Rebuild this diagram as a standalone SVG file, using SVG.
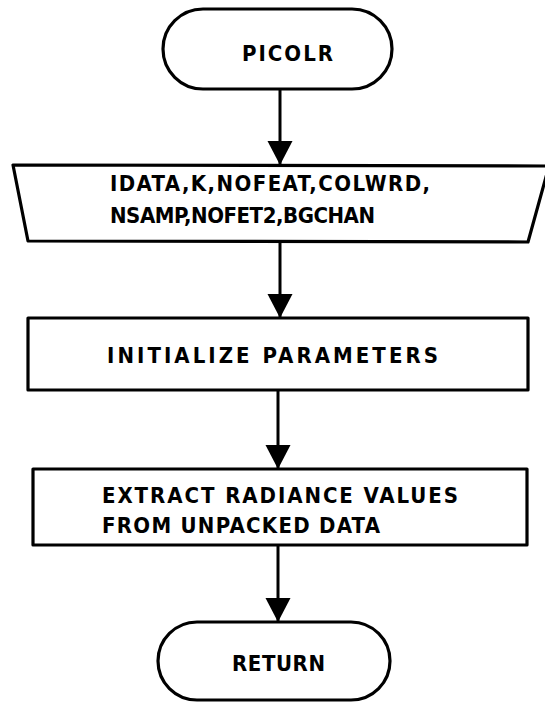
<svg xmlns="http://www.w3.org/2000/svg" width="545" height="705" viewBox="0 0 545 705">
<style>
.shape{fill:#fff;stroke:#000;stroke-width:3.2;stroke-linejoin:round}
.conn{stroke:#000;stroke-width:3;fill:none}
.t{font-family:"DejaVu Sans Condensed","DejaVu Sans",sans-serif;font-stretch:condensed;font-weight:bold;font-size:22px;fill:#000}
</style>
<defs>
<marker id="ah" markerUnits="userSpaceOnUse" markerWidth="26" markerHeight="26" refX="24" refY="12.5" orient="auto">
<path d="M0,0 L24,12.5 L0,25 Z" fill="#000"/>
</marker>
</defs>
<rect width="545" height="705" fill="#fff"/>
<g id="connectors">
<line class="conn" x1="280" y1="89" x2="280" y2="165" marker-end="url(#ah)"/>
<line class="conn" x1="280" y1="242" x2="280" y2="318" marker-end="url(#ah)"/>
<line class="conn" x1="278" y1="390" x2="278" y2="469" marker-end="url(#ah)"/>
<line class="conn" x1="278" y1="545" x2="278" y2="622" marker-end="url(#ah)"/>
</g>
<g id="picolr">
<rect class="shape" x="163" y="9" width="229" height="80" rx="40" ry="40"/>
<text class="t" x="242" y="61" textLength="91" lengthAdjust="spacing">PICOLR</text>
</g>
<g id="input">
<polygon class="shape" points="13,165 549,166 528,242 28,241"/>
<text class="t" x="110" y="191" textLength="320" lengthAdjust="spacing">IDATA,K,NOFEAT,COLWRD,</text>
<text class="t" x="110" y="223" textLength="265" lengthAdjust="spacing">NSAMP,NOFET2,BGCHAN</text>
</g>
<g id="init">
<rect class="shape" x="28" y="318" width="500" height="72"/>
<text class="t" x="107" y="363" textLength="331" lengthAdjust="spacing">INITIALIZE PARAMETERS</text>
</g>
<g id="extract">
<rect class="shape" x="33" y="469" width="494" height="76"/>
<text class="t" x="102" y="503" textLength="356" lengthAdjust="spacing">EXTRACT RADIANCE VALUES</text>
<text class="t" x="102" y="533" textLength="278" lengthAdjust="spacing">FROM UNPACKED DATA</text>
</g>
<g id="return">
<rect class="shape" x="158" y="622" width="232" height="78" rx="39" ry="39"/>
<text class="t" x="232" y="671" textLength="93" lengthAdjust="spacing">RETURN</text>
</g>
</svg>
